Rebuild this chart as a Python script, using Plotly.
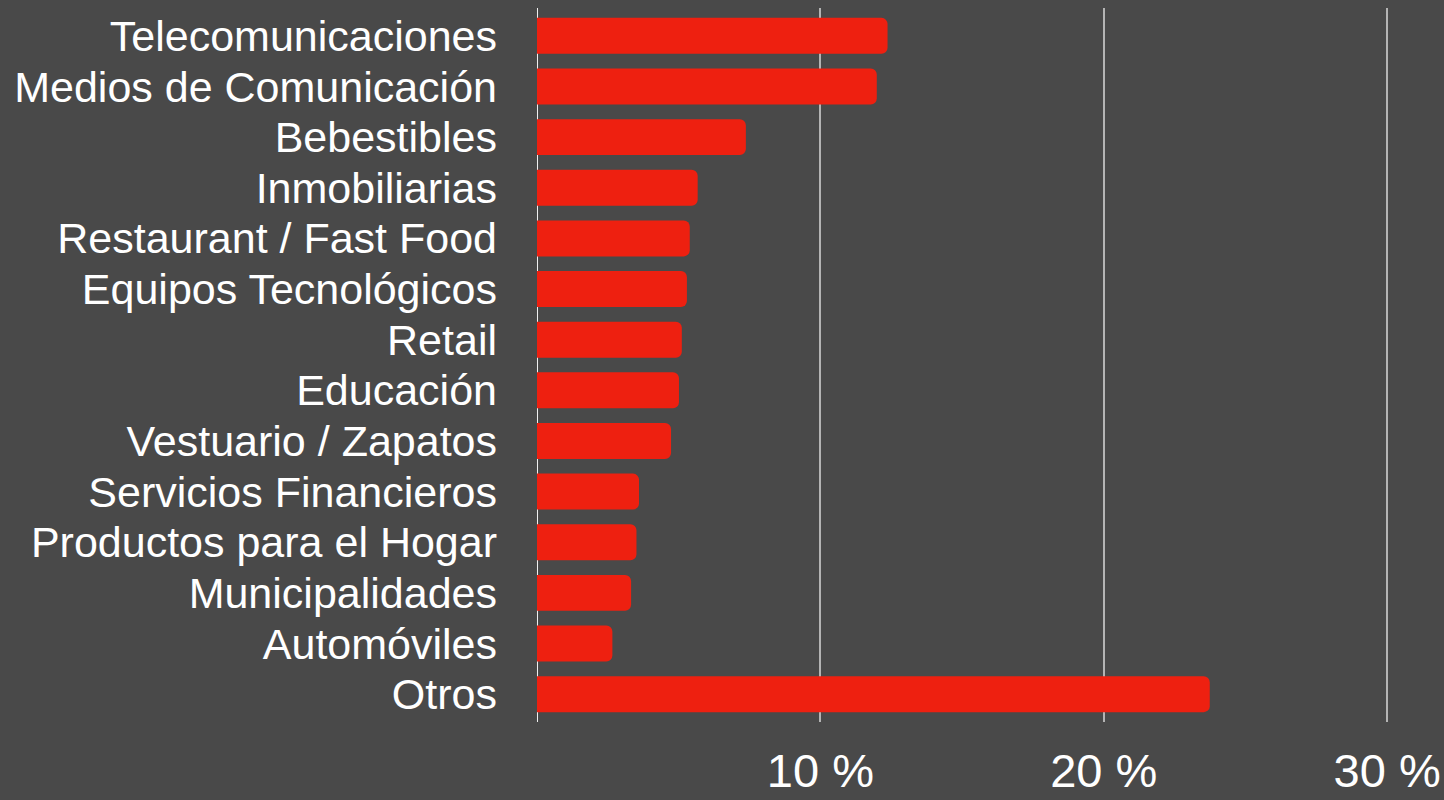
import plotly.graph_objects as go

categories = [
    "Telecomunicaciones",
    "Medios de Comunicación",
    "Bebestibles",
    "Inmobiliarias",
    "Restaurant / Fast Food",
    "Equipos Tecnológicos",
    "Retail",
    "Educación",
    "Vestuario / Zapatos",
    "Servicios Financieros",
    "Productos para el Hogar",
    "Municipalidades",
    "Automóviles",
    "Otros",
]
values = [12.37, 11.99, 7.37, 5.67, 5.39, 5.29, 5.11, 5.01, 4.73, 3.60, 3.51, 3.32, 2.66, 23.74]
tick_vals = [10, 20, 30]
tick_text = ["10 %", "20 %", "30 %"]

BG = "#494949"
BAR = "#EE2010"
FONT = "Liberation Sans, Arial, Helvetica, sans-serif"

fig = go.Figure(
    go.Bar(
        x=values,
        y=categories,
        orientation="h",
        marker=dict(color=BAR, line=dict(width=0), cornerradius=6),
        hoverinfo="x+y",
    )
)

fig.update_layout(
    width=1444,
    height=800,
    paper_bgcolor=BG,
    plot_bgcolor=BG,
    margin=dict(l=537, r=54, t=8, b=78),
    bargap=0.29,
    showlegend=False,
    font=dict(family=FONT, color="white"),
)

fig.update_xaxes(
    range=[0, 30.1],
    tickmode="array",
    tickvals=tick_vals,
    ticktext=tick_text,
    showgrid=True,
    gridcolor="#b4b4b4",
    gridwidth=2,
    zeroline=True,
    zerolinecolor="#f0f0f0",
    zerolinewidth=1,
    showline=False,
    ticks="",
    tickfont=dict(size=47, color="white", family=FONT),
    ticklabelstandoff=17,
    automargin=False,
    fixedrange=True,
)

fig.update_yaxes(
    categoryorder="array",
    categoryarray=categories,
    tickmode="array",
    tickvals=categories,
    ticktext=categories,
    range=[13.55, -0.55],
    showgrid=False,
    zeroline=False,
    showline=False,
    ticks="",
    tickfont=dict(size=43, color="white", family=FONT),
    ticklabelstandoff=39,
    automargin=False,
    fixedrange=True,
)

fig.write_html(
    "out.html",
    config={"displayModeBar": False},
    post_script="document.body.style.margin='0';document.body.style.background='#494949';document.body.style.overflow='hidden';",
)
